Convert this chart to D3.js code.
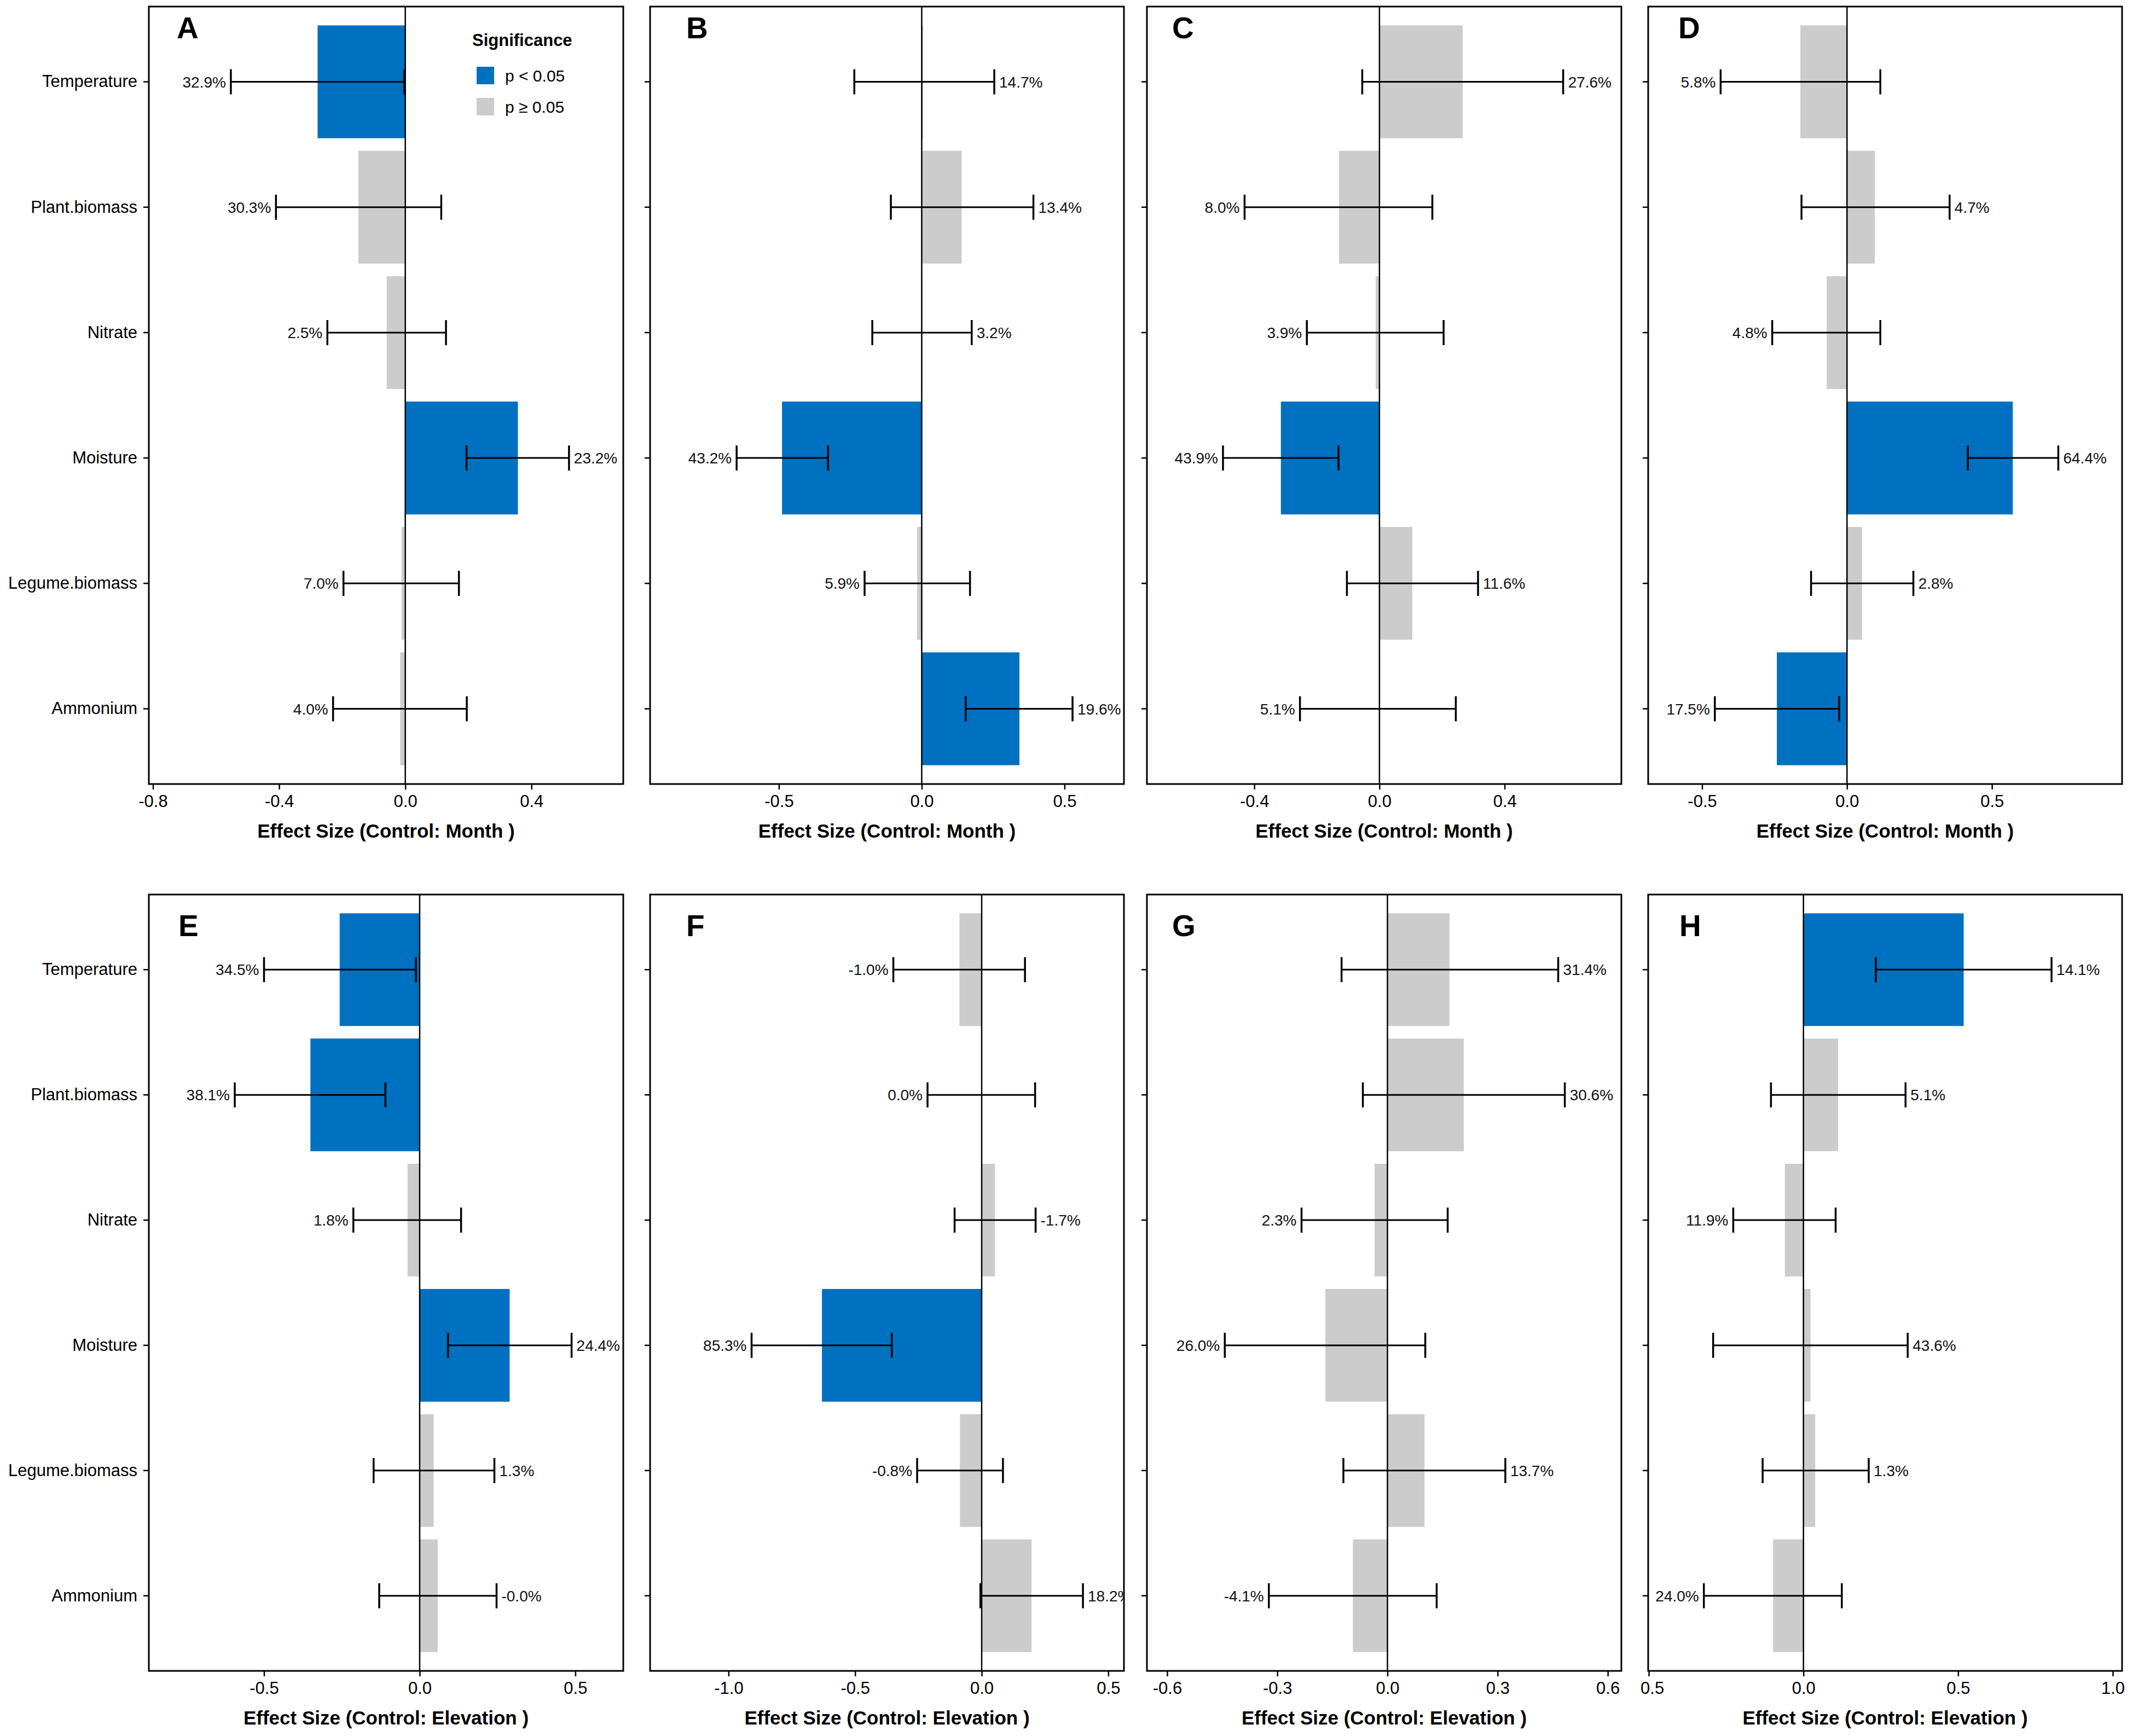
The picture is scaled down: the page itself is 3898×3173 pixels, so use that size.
<!DOCTYPE html>
<html>
<head>
<meta charset="utf-8">
<script src="https://cdn.jsdelivr.net/npm/d3@7"></script>
<style>
  body { margin: 0; background: #fff; }
  svg { display: block; font-family: "Liberation Sans", Arial, sans-serif; }
</style>
</head>
<body>
<div id="main"></div>
<script>
// ---- data ----
const predictors = ["Temperature", "Plant.biomass", "Nitrate", "Moisture", "Legume.biomass", "Ammonium"];
const panelIds = ["A", "B", "C", "D", "E", "F", "G", "H"];
const controls = ["Month", "Month", "Month", "Month", "Elevation", "Elevation", "Elevation", "Elevation"];

const effects = [
    [-0.278, -0.149, -0.059, 0.357, -0.012, -0.016],
    [0.005, 0.140, 0.002, -0.489, -0.016, 0.342],
    [0.266, -0.129, -0.012, -0.315, 0.105, -0.002],
    [-0.161, 0.096, -0.070, 0.572, 0.052, -0.242],
    [-0.257, -0.351, -0.039, 0.289, 0.045, 0.058],
    [-0.088, -0.002, 0.052, -0.631, -0.086, 0.197],
    [0.169, 0.208, -0.035, -0.169, 0.101, -0.094],
    [0.518, 0.112, -0.060, 0.023, 0.038, -0.098]
];
const ciLow = [
    [-0.553, -0.410, -0.247, 0.194, -0.196, -0.229],
    [-0.236, -0.108, -0.173, -0.648, -0.200, 0.154],
    [-0.055, -0.431, -0.232, -0.500, -0.104, -0.254],
    [-0.436, -0.157, -0.258, 0.417, -0.124, -0.456],
    [-0.500, -0.594, -0.213, 0.091, -0.148, -0.130],
    [-0.349, -0.214, -0.107, -0.909, -0.255, -0.005],
    [-0.125, -0.067, -0.234, -0.443, -0.120, -0.323],
    [0.234, -0.105, -0.227, -0.292, -0.132, -0.322]
];
const ciHigh = [
    [-0.003, 0.114, 0.129, 0.519, 0.170, 0.195],
    [0.254, 0.391, 0.175, -0.328, 0.169, 0.528],
    [0.587, 0.169, 0.205, -0.131, 0.315, 0.244],
    [0.115, 0.354, 0.115, 0.729, 0.229, -0.027],
    [-0.012, -0.110, 0.133, 0.488, 0.240, 0.247],
    [0.171, 0.211, 0.213, -0.355, 0.084, 0.400],
    [0.465, 0.483, 0.164, 0.103, 0.321, 0.134],
    [0.802, 0.330, 0.104, 0.337, 0.211, 0.124]
];
const pctLabels = [
    ["32.9%", "30.3%", "2.5%", "23.2%", "7.0%", "4.0%"],
    ["14.7%", "13.4%", "3.2%", "43.2%", "5.9%", "19.6%"],
    ["27.6%", "8.0%", "3.9%", "43.9%", "11.6%", "5.1%"],
    ["5.8%", "4.7%", "4.8%", "64.4%", "2.8%", "17.5%"],
    ["34.5%", "38.1%", "1.8%", "24.4%", "1.3%", "-0.0%"],
    ["-1.0%", "0.0%", "-1.7%", "85.3%", "-0.8%", "18.2%"],
    ["31.4%", "30.6%", "2.3%", "26.0%", "13.7%", "-4.1%"],
    ["14.1%", "5.1%", "11.9%", "43.6%", "1.3%", "24.0%"]
];
const significant = [
    [1, 0, 0, 1, 0, 0],
    [0, 0, 0, 1, 0, 1],
    [0, 0, 0, 1, 0, 0],
    [0, 0, 0, 1, 0, 1],
    [1, 1, 0, 1, 0, 0],
    [0, 0, 0, 1, 0, 0],
    [0, 0, 0, 0, 0, 0],
    [1, 0, 0, 0, 0, 0]
];
const xDomains = [
    [-0.813, 0.691], [-0.951, 0.708], [-0.743, 0.773], [-0.686, 0.949],
    [-0.870, 0.654], [-1.310, 0.562], [-0.655, 0.637], [-0.502, 1.030]
];
const xTicks = [
    [-0.8, -0.4, 0, 0.4], [-0.5, 0, 0.5], [-0.4, 0, 0.4], [-0.5, 0, 0.5],
    [-0.5, 0, 0.5], [-1.0, -0.5, 0, 0.5], [-0.6, -0.3, 0, 0.3, 0.6], [-0.5, 0, 0.5, 1.0]
];
const legendLabels = ["p < 0.05", "p \u2265 0.05"];

// ---- layout ----
const ctx = {
    w: 3898,
    h: 3173,
    colLeft: [272, 1188, 2096, 3012],
    colRight: [1139, 2054, 2963, 3878],
    rowTop: [12, 1635],
    rowBottom: [1433, 3054],
    letterDx: [51, 66, 46, 55, 54, 66, 46, 57],
    letterDy: [58, 76],
    BLUE: "#0070C0",
    GREY: "#CCCCCC",
    FONT_TICK: 31,
    FONT_PCT: 28,
    FONT_TITLE: 35,
};

const svg = d3.select("#main").append("svg")
    .attr("width", ctx.w).attr("height", ctx.h);
svg.append("rect").attr("width", ctx.w).attr("height", ctx.h).attr("fill", "#fff");
const defs = svg.append("defs");

function drawPanel(i){
    const col = i % 4, row = Math.floor(i / 4);
    const L = ctx.colLeft[col], R = ctx.colRight[col];
    const T = ctx.rowTop[row], B = ctx.rowBottom[row];

    const x = d3.scaleLinear().domain(xDomains[i]).range([L, R]);
    const y = d3.scaleBand().domain(predictors).range([T, B])
                .paddingInner(0.1).paddingOuter(0.15);
    const bw = y.bandwidth();
    const capHalf = bw / 0.9 * 0.1;

    const rows = predictors.map((p, j) => ({
        name: p, v: effects[i][j], lo: ciLow[i][j], hi: ciHigh[i][j],
        lab: pctLabels[i][j], sig: significant[i][j]
    }));

    defs.append("clipPath").attr("id", "clip" + i)
        .append("rect").attr("x", L).attr("y", T).attr("width", R - L).attr("height", B - T);

    const g = svg.append("g").attr("clip-path", "url(#clip" + i + ")");

    // bars
    g.selectAll("rect.bar").data(rows).enter().append("rect")
        .attr("class", "bar")
        .attr("x", d => x(Math.min(0, d.v)))
        .attr("width", d => Math.abs(x(d.v) - x(0)))
        .attr("y", d => y(d.name))
        .attr("height", bw)
        .attr("fill", d => d.sig ? ctx.BLUE : ctx.GREY);

    // zero line
    g.append("line")
        .attr("x1", x(0)).attr("x2", x(0)).attr("y1", T).attr("y2", B)
        .attr("stroke", "#000").attr("stroke-width", 2.5);

    // error bars
    const eb = g.selectAll("g.eb").data(rows).enter().append("g")
        .attr("transform", d => "translate(0," + (y(d.name) + bw / 2) + ")");
    eb.append("line")
        .attr("x1", d => x(d.lo)).attr("x2", d => x(d.hi))
        .attr("stroke", "#000").attr("stroke-width", 3);
    eb.append("line")
        .attr("x1", d => x(d.lo)).attr("x2", d => x(d.lo))
        .attr("y1", -capHalf).attr("y2", capHalf)
        .attr("stroke", "#000").attr("stroke-width", 3.5);
    eb.append("line")
        .attr("x1", d => x(d.hi)).attr("x2", d => x(d.hi))
        .attr("y1", -capHalf).attr("y2", capHalf)
        .attr("stroke", "#000").attr("stroke-width", 3.5);
    eb.append("text")
        .attr("x", d => d.v < 0 ? x(d.lo) - 9 : x(d.hi) + 9)
        .attr("dy", "0.36em")
        .attr("text-anchor", d => d.v < 0 ? "end" : "start")
        .attr("font-size", ctx.FONT_PCT)
        .attr("fill", "#111")
        .text(d => d.lab);

    // x axis
    const isH = panelIds[i] === "H";
    const xAxis = d3.axisBottom(x).tickValues(xTicks[i]).tickSize(10).tickPadding(10)
        .tickFormat(d => (isH && d < 0) ? (-d).toFixed(1) : d.toFixed(1));
    const gx = svg.append("g").attr("transform", "translate(0," + B + ")").call(xAxis);
    gx.select(".domain").remove();
    gx.selectAll(".tick line").attr("stroke", "#000").attr("stroke-width", 2.5);
    gx.selectAll(".tick text").attr("font-size", ctx.FONT_TICK).attr("fill", "#000")
        .attr("font-family", "Liberation Sans, Arial, sans-serif")
        .attr("dx", d => (isH && d < 0) ? 6 : 0);

    // y axis
    const showNames = (col === 0);
    const yAxis = d3.axisLeft(y).tickSize(10).tickPadding(11);
    if (!showNames) yAxis.tickFormat("");
    const gy = svg.append("g").attr("transform", "translate(" + L + ",0)").call(yAxis);
    gy.select(".domain").remove();
    gy.selectAll(".tick line").attr("stroke", "#000").attr("stroke-width", 2.5);
    gy.selectAll(".tick text").attr("font-size", ctx.FONT_TICK).attr("fill", "#000")
        .attr("font-family", "Liberation Sans, Arial, sans-serif");

    // border
    svg.append("rect")
        .attr("x", L).attr("y", T).attr("width", R - L).attr("height", B - T)
        .attr("fill", "none").attr("stroke", "#000").attr("stroke-width", 3);

    // axis title
    svg.append("text")
        .attr("x", (L + R) / 2).attr("y", B + 98)
        .attr("text-anchor", "middle")
        .attr("font-size", ctx.FONT_TITLE).attr("font-weight", "bold")
        .text("Effect Size (Control: " + controls[i] + " )");

    // panel letter
    svg.append("text")
        .attr("x", L + ctx.letterDx[i]).attr("y", T + ctx.letterDy[row])
        .attr("font-size", 55).attr("font-weight", "bold")
        .text(panelIds[i]);

    if (i === 0) drawLegend(L, T);
}

function drawLegend(L, T){
    const lg = svg.append("g").attr("transform", "translate(" + (L + 591) + "," + T + ")");
    lg.append("text").attr("x", 0).attr("y", 72)
        .attr("font-size", 31).attr("font-weight", "bold")
        .text("Significance");
    const keys = lg.selectAll("g.key").data(legendLabels).enter().append("g")
        .attr("transform", (d, k) => "translate(8," + (110 + k * 57) + ")");
    keys.append("rect").attr("width", 32).attr("height", 32)
        .attr("fill", (d, k) => k === 0 ? ctx.BLUE : ctx.GREY);
    keys.append("text").attr("x", 52).attr("y", 16).attr("dy", "0.36em")
        .attr("font-size", 30)
        .text(d => d);
}

panelIds.forEach((p, i) => drawPanel(i));
</script>
</body>
</html>
